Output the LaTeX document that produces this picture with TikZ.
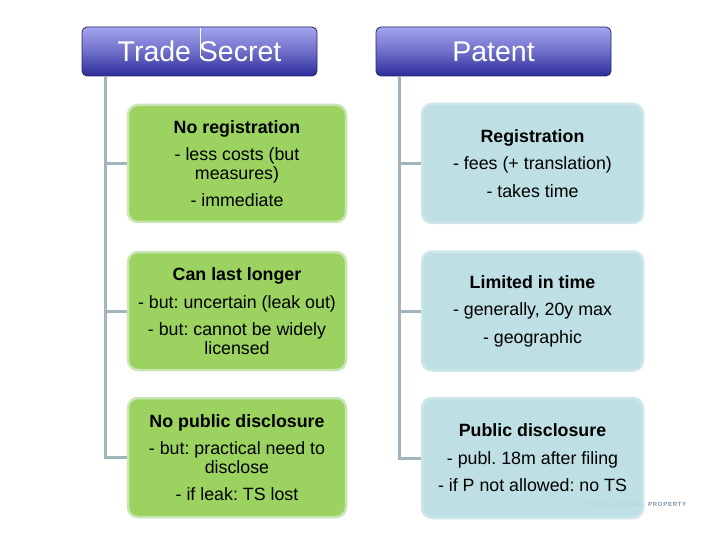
\documentclass[tikz,border=0pt]{standalone}
\usepackage{fontspec}
\setmainfont{Liberation Sans}
\frenchspacing
\definecolor{hdrtop}{HTML}{A4A5EF}
\definecolor{hdrbot}{HTML}{2C2C9A}
\definecolor{hdrline}{HTML}{262670}
\definecolor{gfill}{HTML}{9BD260}
\definecolor{gline}{HTML}{C8E6B4}
\definecolor{bfill}{HTML}{BEE0E4}
\definecolor{bline}{HTML}{CFE7EB}
\definecolor{conncol}{HTML}{A2B5BD}
\definecolor{wmark}{HTML}{7C93AC}
\begin{document}
\begin{tikzpicture}[x=1pt,y=-1pt,
  hdr/.style={draw=hdrline, line width=0.8pt, rounded corners=5pt,
    top color=hdrtop, bottom color=hdrbot, middle color=hdrtop!55!hdrbot,
    minimum width=235pt, minimum height=49pt, text=white,
    font=\fontsize{28.5}{32}\selectfont, inner sep=0pt},
  gbox/.style={draw=gline, fill=gfill, line width=2.5pt, rounded corners=10pt,
    minimum width=218pt, minimum height=117pt, align=center,
    font=\fontsize{17.8}{18.5}\selectfont, inner sep=0pt},
  bbox/.style={draw=bline, fill=bfill, line width=2.5pt, rounded corners=10pt,
    minimum width=221pt, minimum height=119pt, align=center,
    font=\fontsize{17.8}{18.5}\selectfont, inner sep=0pt},
  conn/.style={draw=conncol, line width=3pt}]
\useasboundingbox (0,0) rectangle (720,540);
\fill[white] (0,0) rectangle (720,540);

% headers
\node[hdr] (ts) at (199.5,51.5) {Trade Secret};
\draw[white, line width=0.6pt] (200.5,28) -- (200.5,57);
\node[hdr] (pt) at (493.5,51.5) {Patent};

% boxes
\node[gbox] (g1) at (237,163.5) {\textbf{No registration}\\[9pt]- less costs (but\\measures)\\[9pt]- immediate};
\node[gbox, minimum height=118pt] (g2) at (237,311) {\textbf{Can last longer}\\[9pt]- but: uncertain (leak out)\\[9pt]- but: cannot be widely\\licensed};
\node[gbox, minimum height=119pt] (g3) at (237,457.5) {\textbf{No public disclosure}\\[9pt]- but: practical need to\\disclose\\[9pt]- if leak: TS lost};

\node[bbox] (b1) at (532.5,163.5) {\textbf{Registration}\\[9pt]- fees (+ translation)\\[9pt]- takes time};
\node[bbox] (b2) at (532.5,311) {\textbf{Limited in time}\\[9pt]- generally, 20y max\\[9pt]- geographic};
\node[bbox, minimum height=120pt] (b3) at (532.5,458) {\textbf{Public disclosure}\\[9pt]- publ. 18m after filing\\[9pt]- if P not allowed: no TS};

% connectors
\coordinate (tsl) at ([xshift=24pt]ts.south west);
\coordinate (ptl) at ([xshift=24pt]pt.south west);
\draw[conn] (tsl) |- (g3.west);
\draw[conn] (tsl) |- (g1.west);
\draw[conn] (tsl) |- (g2.west);
\draw[conn] (ptl) |- (b3.west);
\draw[conn] (ptl) |- (b1.west);
\draw[conn] (ptl) |- (b2.west);

% watermark
\node[anchor=east, text=bfill!80!gray, font=\fontsize{6}{7}\selectfont\addfontfeature{LetterSpace=20}, inner sep=0pt] (wm1) at (645,504) {INTELLECTUAL};
\node[anchor=west, text=wmark, font=\bfseries\fontsize{6}{7}\selectfont\addfontfeature{LetterSpace=12}, inner sep=0pt] (wm2) at (648,504) {PROPERTY};
\end{tikzpicture}
\end{document}
